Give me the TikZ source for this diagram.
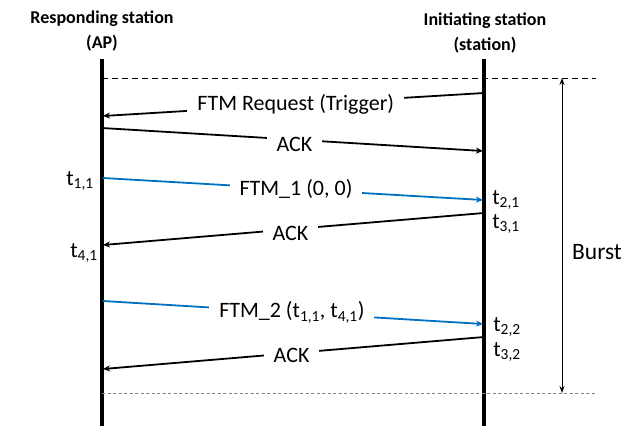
\documentclass[tikz,border=0pt]{standalone}
\usepackage{fontspec}
\setmainfont{Carlito}
\usetikzlibrary{arrows.meta}
\definecolor{msgblue}{RGB}{0,112,192}
\begin{document}
\begin{tikzpicture}[x=1pt,y=-1pt,
  lifeline/.style={line width=3.2pt},
  msg/.style={line width=1.8pt,-{Stealth[length=7pt,width=6pt]}},
  bluemsg/.style={msg,draw=msgblue},
  lbl/.style={fill=white,inner xsep=10pt,inner ysep=2pt,font=\fontsize{22}{26}\selectfont},
  title/.style={font=\bfseries\fontsize{18}{25}\selectfont,align=center},
  ts/.style={font=\fontsize{22}{26}\selectfont,inner sep=0pt}]
\useasboundingbox (0,0) rectangle (638,426);
% titles
\node[title] (resp) at (102,31) {Responding station\\(AP)};
\node[title] (init) at (485,33) {Initiating station\\(station)};
% lifelines
\coordinate (Ltop) at (102,59); \coordinate (Lbot) at (102,426);
\coordinate (Rtop) at (484,59); \coordinate (Rbot) at (484,426);
\draw[lifeline] (Ltop) -- (Lbot);
\draw[lifeline] (Rtop) -- (Rbot);
% burst bounds
\coordinate (d1a) at (102,78); \coordinate (d1b) at (596,78);
\coordinate (d2a) at (102,393); \coordinate (d2b) at (596,393);
\draw[line width=0.9pt,dash pattern=on 6pt off 4pt] (d1a) -- (d1b);
\draw[line width=0.8pt,gray,dash pattern=on 3pt off 2.5pt] (d2a) -- (d2b);
\coordinate (bt) at (562,78); \coordinate (bb) at (562,393);
\draw[line width=0.9pt,{Stealth[length=7pt,width=5pt]}-{Stealth[length=7pt,width=5pt]}] (bt) -- (bb);
\node[ts,font=\fontsize{23.5}{27}\selectfont] (burst) at (597,252) {Burst};
% messages
\coordinate (m1s) at (484,93); \coordinate (m1e) at (103,116);
\draw[msg] (m1s) -- node[lbl,pos=0.494] (l1) {FTM Request (Trigger)} (m1e);
\coordinate (m2s) at (102,128); \coordinate (m2e) at (483,151);
\draw[msg] (m2s) -- node[lbl,pos=0.505,yshift=-5pt] (l2) {ACK} (m2e);
\coordinate (m3s) at (103,178); \coordinate (m3e) at (483,200);
\draw[bluemsg] (m3s) -- node[lbl,pos=0.508] (l3) {FTM\_1 (0, 0)} (m3e);
\coordinate (m4s) at (484,213); \coordinate (m4e) at (103,245);
\draw[msg] (m4s) -- node[lbl,pos=0.508,yshift=-4pt] (l4) {ACK} (m4e);
\coordinate (m5s) at (103,301); \coordinate (m5e) at (483,324);
\draw[bluemsg] (m5s) -- node[lbl,pos=0.497] (l5) {FTM\_2 (t\textsubscript{1,1}, t\textsubscript{4,1})} (m5e);
\coordinate (m6s) at (484,337); \coordinate (m6e) at (103,369);
\draw[msg] (m6s) -- node[lbl,pos=0.505,yshift=-2pt] (l6) {ACK} (m6e);
% timestamps
\node[ts] (t11) at (80,181) {t\textsubscript{1,1}};
\node[ts] (t41) at (84,253) {t\textsubscript{4,1}};
\node[ts] (t21) at (506,200) {t\textsubscript{2,1}};
\node[ts] (t31) at (506,224) {t\textsubscript{3,1}};
\node[ts] (t22) at (507,327) {t\textsubscript{2,2}};
\node[ts] (t32) at (507,352) {t\textsubscript{3,2}};
\end{tikzpicture}
\end{document}
